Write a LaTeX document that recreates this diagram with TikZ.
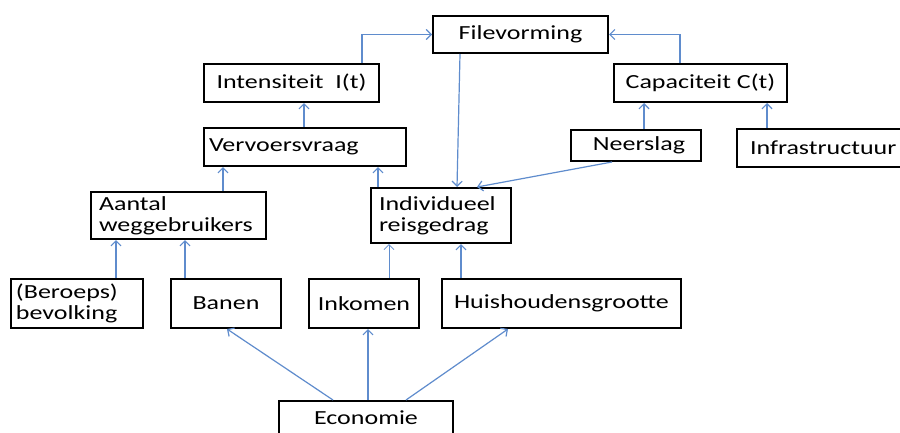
\documentclass[tikz,border=0pt]{standalone}
\usepackage{fontspec}
\setmainfont{Carlito}[FakeStretch=1.3]
\usetikzlibrary{arrows.meta}
\definecolor{arrblue}{RGB}{95,140,205}
\tikzset{
  box/.style={draw=black, line width=2pt, rectangle, anchor=north west, inner sep=0pt,
    font=\fontsize{20}{21}\selectfont},
  lbox/.style={box, align=left},
  arr/.style={draw=arrblue, line width=1.2pt, -{Straight Barb[length=5pt,width=10pt]}}
}
\begin{document}
\begin{tikzpicture}[x=1pt,y=-1pt]
\useasboundingbox[fill=white] (0,0) rectangle (900,432);
% boxes
\node[box, minimum width=175, minimum height=37] (fil) at (432,15) {Filevorming};
\node[box, minimum width=175, minimum height=38] (int) at (203,63) {Intensiteit\ \ I(t)};
\node[box, minimum width=173, minimum height=38] (cap) at (613,63) {Capaciteit C(t)};
\node[lbox, minimum height=38, text width=192, inner xsep=5] (ver) at (203,127) {Vervoersvraag};
\node[lbox, minimum height=31, text width=98, inner xsep=16, yshift=-1pt] (nee) at (570,128) {\hfill Neerslag};
\node[lbox, minimum height=38, text width=154, inner xsep=13] (inf) at (736,128) {Infrastructuur\\[4pt]};
\node[lbox, minimum height=47, text width=159, inner xsep=8] (aan) at (90,191) {Aantal\\weggebruikers};
\node[lbox, minimum height=55, text width=124, inner xsep=8] (ind) at (370,187) {Individueel\\reisgedrag};
\node[lbox, minimum height=49, text width=122, inner xsep=5] (ber) at (10,278) {(Beroeps)\\bevolking};
\node[box, minimum width=110, minimum height=49] (ban) at (170,278) {Banen};
\node[box, minimum width=110, minimum height=49] (ink) at (308,278) {Inkomen};
\node[box, minimum width=239, minimum height=49] (hui) at (441,278) {Huishoudensgrootte};
\node[box, minimum width=174, minimum height=34] (eco) at (278,400) {Economie};
% connectors
\draw[arr] ([xshift=159pt]int.north west) |- (fil.west);
\draw[arr] ([xshift=67pt]cap.north west) |- (fil.east);
\draw[arr] ([xshift=101pt]ver.north west) -- ([xshift=101pt]int.south west);
\draw[arr] ([xshift=28pt]fil.south west) -- ([xshift=87pt]ind.north west);
\draw[arr] ([xshift=42pt]nee.south west) -- ([xshift=107pt]ind.north west);
\draw[arr] ([xshift=74pt]nee.north west) -- ([xshift=31pt]cap.south west);
\draw[arr] ([xshift=31pt]inf.north west) -- ([xshift=154pt]cap.south west);
\draw[arr] ([xshift=133pt]aan.north west) -- ([xshift=20pt]ver.south west);
\draw[arr] ([xshift=8pt]ind.north west) -- ([xshift=175pt]ver.south west);
\draw[arr] ([xshift=106pt]ber.north west) -- ([xshift=26pt]aan.south west);
\draw[arr] ([xshift=15pt]ban.north west) -- ([xshift=95pt]aan.south west);
\draw[arr, line width=0.8pt] ([xshift=81pt]ink.north west) -- ([xshift=19pt]ind.south west);
\draw[arr] ([xshift=20pt]hui.north west) -- ([xshift=91pt]ind.south west);
\draw[arr] ([xshift=55pt]eco.north west) -- ([xshift=57pt]ban.south west);
\draw[arr] ([xshift=90pt]eco.north west) -- ([xshift=60pt]ink.south west);
\draw[arr] ([xshift=128pt]eco.north west) -- ([xshift=67pt]hui.south west);
\end{tikzpicture}
\end{document}
